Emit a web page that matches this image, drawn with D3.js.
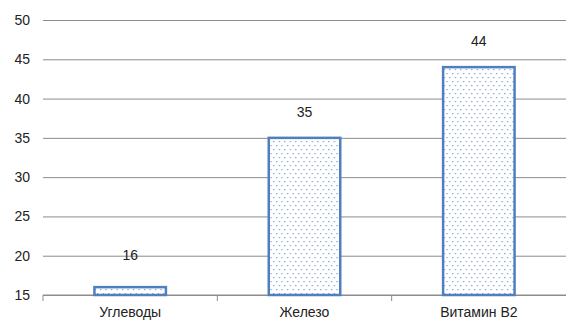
<!DOCTYPE html>
<html>
<head>
<meta charset="utf-8">
<script src="https://cdn.jsdelivr.net/npm/d3@7"></script>
<style>
  body { margin: 0; background: #fff; }
  text { font-family: "Liberation Sans", Arial, sans-serif; fill: #222; }
</style>
</head>
<body>
<svg id="chart" width="566" height="322"></svg>
<script>
// chart data
const categories = ["Углеводы", "Железо", "Витамин В2"];
const values = [16, 35, 44];
const yTicks = [15, 20, 25, 30, 35, 40, 45, 50];

const width = 566, height = 322;
const margin = {top: 20, right: 0, bottom: 27, left: 43};

const svg = d3.select("#chart");

// dotted fill for the bars
const pat = svg.append("defs").append("pattern")
    .attr("id", "dots")
    .attr("patternUnits", "userSpaceOnUse")
    .attr("width", 5.5)
    .attr("height", 8);
pat.append("rect").attr("width", 5.5).attr("height", 8).attr("fill", "#fff");
pat.append("rect").attr("x", 1).attr("y", 1).attr("width", 1.2).attr("height", 1.2).attr("fill", "#6f95cf");
pat.append("rect").attr("x", 3.7).attr("y", 5).attr("width", 1.2).attr("height", 1.2).attr("fill", "#6f95cf");

const x = d3.scaleBand()
    .domain(categories)
    .range([margin.left, width - margin.right])
    .paddingInner(0.59)
    .paddingOuter(0.295);

const y = d3.scaleLinear()
    .domain([15, 50])
    .range([height - margin.bottom, margin.top]);

// gridlines + y labels
const yAxis = svg.append("g")
    .attr("transform", `translate(${margin.left},0)`)
    .call(d3.axisLeft(y).tickValues(yTicks).tickSize(-(width - margin.left - margin.right)).tickPadding(13));
yAxis.select(".domain").remove();
yAxis.selectAll(".tick line").attr("stroke", "#8c8c8c").attr("stroke-width", 1);
yAxis.selectAll(".tick text").style("font-size", "14px").attr("fill", "#222");

// x axis with ticks at category boundaries
const xg = svg.append("g").attr("transform", `translate(0,${y(15)})`);
xg.append("line")
    .attr("x1", margin.left).attr("x2", width - margin.right)
    .attr("stroke", "#8c8c8c");
const bounds = d3.range(categories.length).map(i => margin.left + i * (width - margin.left - margin.right) / categories.length);
xg.selectAll("line.tk")
    .data(bounds)
    .join("line")
    .attr("class", "tk")
    .attr("x1", d => d).attr("x2", d => d)
    .attr("y1", 0).attr("y2", 6)
    .attr("stroke", "#8c8c8c");
xg.selectAll("text")
    .data(categories)
    .join("text")
    .attr("x", d => x(d) + x.bandwidth() / 2)
    .attr("y", 22)
    .attr("text-anchor", "middle")
    .style("font-size", "14px")
    .text(d => d);

// bars
svg.append("g")
    .selectAll("rect")
    .data(values)
    .join("rect")
    .attr("x", (d, i) => x(categories[i]))
    .attr("y", d => y(d))
    .attr("width", x.bandwidth())
    .attr("height", d => y(15) - y(d))
    .attr("fill", "url(#dots)")
    .attr("stroke", "#4f7fc0")
    .attr("stroke-width", 2.5);

// value labels
svg.append("g")
    .selectAll("text")
    .data(values)
    .join("text")
    .attr("x", (d, i) => x(categories[i]) + x.bandwidth() / 2)
    .attr("y", d => Math.min(y(d) - 21, y(20) + 4))
    .attr("text-anchor", "middle")
    .style("font-size", "14px")
    .text(d => d);
</script>
</body>
</html>
